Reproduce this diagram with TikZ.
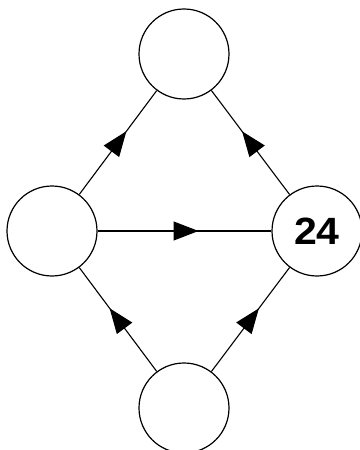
\documentclass[tikz,border=0pt]{standalone}
\usepackage{fontspec}
\setmainfont{Liberation Sans}
\usetikzlibrary{positioning,arrows.meta,decorations.markings}

\begin{document}
\begin{tikzpicture}
	[
	  vertex/.style={circle, draw, line width=1.2pt, minimum size=90pt, inner sep=0pt,
	    font=\fontsize{38}{39}\selectfont\bfseries},
	  flow/.style={draw, line width=1.1pt, postaction={decorate},
	    decoration={markings, mark=at position 0.5 with
	      {\pgftransformxshift{14pt}\arrow{Triangle[length=25pt,width=19pt]}}}},
	  on grid,
	]
	\useasboundingbox (-52pt,-219pt) rectangle (307pt,231pt);
	\node (left) [vertex] {};
	\node (top) [vertex, above right=177pt and 132pt of left] {};
	\node (right) [vertex, below right=177pt and 133pt of top] {\scalebox{1.08}[1]{24}};
	\node (bottom) [vertex, below left=177pt and 133pt of right] {};
	\path
	  (left) edge [flow] (top)
	         edge [flow] (right)
	  (right) edge [flow] (top)
	  (bottom) edge [flow] (left)
	           edge [flow] (right)
	  ;
\end{tikzpicture}
\end{document}
